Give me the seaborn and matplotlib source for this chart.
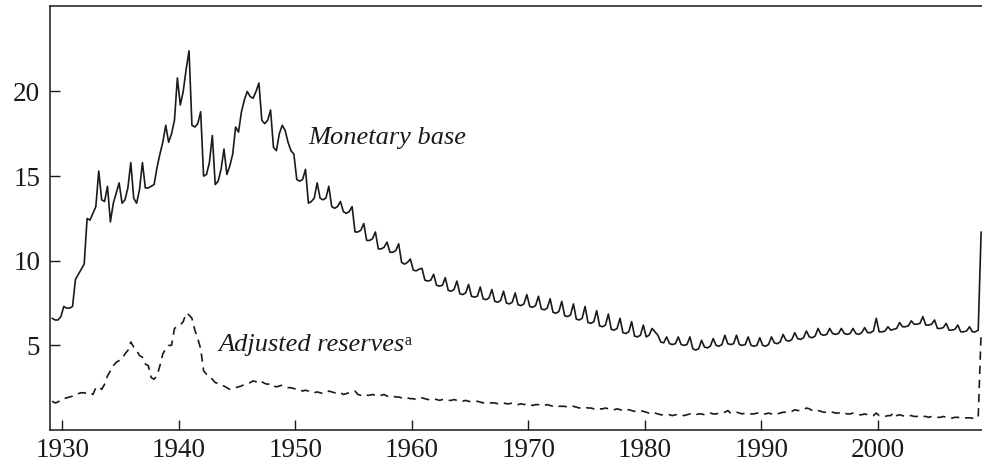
import numpy as np
import pandas as pd
import seaborn as sns
import matplotlib
matplotlib.use("Agg")
import matplotlib.pyplot as plt

# ---- data: quarterly ratios to GDP (percent), Q1..Q4 per year ----
years = list(range(1929, 2009))
quarter_offsets = [0.125, 0.375, 0.625, 0.875]

base_1929_1948 = [
    6.6, 6.5, 6.5, 6.7,   7.3, 7.2, 7.2, 7.3,   8.9, 9.2, 9.5, 9.8,
    12.5, 12.4, 12.8, 13.2,   15.3, 13.6, 13.5, 14.4,   12.3, 13.4, 14.0, 14.6,
    13.4, 13.6, 14.3, 15.8,   13.7, 13.4, 14.2, 15.8,   14.3, 14.3, 14.4, 14.5,
    15.5, 16.3, 17.0, 18.0,   17.0, 17.5, 18.3, 20.8,   19.2, 20.0, 21.3, 22.4,
    18.0, 17.9, 18.1, 18.8,   15.0, 15.1, 15.8, 17.4,   14.5, 14.7, 15.4, 16.6,
    15.1, 15.6, 16.3, 17.9,   17.6, 18.8, 19.5, 20.0,   19.7, 19.6, 20.0, 20.5,
    18.3, 18.1, 18.3, 18.9,   16.7, 16.5, 17.5, 18.0,
]
base_1949_1968 = [
    17.7, 17.0, 16.5, 16.3,   14.8, 14.7, 14.8, 15.4,   13.4, 13.5, 13.7, 14.6,
    13.7, 13.6, 13.7, 14.4,   13.2, 13.1, 13.2, 13.5,   12.9, 12.8, 12.9, 13.2,
    11.7, 11.7, 11.8, 12.2,   11.2, 11.2, 11.3, 11.7,   10.7, 10.7, 10.8, 11.1,
    10.5, 10.5, 10.6, 11.0,   9.9, 9.8, 9.9, 10.1,   9.45, 9.4, 9.5, 9.55,
    8.85, 8.8, 8.85, 9.2,   8.55, 8.5, 8.55, 9.0,   8.25, 8.2, 8.3, 8.8,
    8.05, 8.0, 8.1, 8.6,   7.9, 7.85, 7.9, 8.45,   7.75, 7.7, 7.8, 8.3,
    7.6, 7.55, 7.65, 8.2,   7.5, 7.45, 7.55, 8.1,
]
base_1969_1988 = [
    7.4, 7.35, 7.45, 8.0,   7.3, 7.25, 7.35, 7.9,   7.15, 7.1, 7.2, 7.75,
    6.95, 6.9, 7.0, 7.6,   6.75, 6.7, 6.8, 7.45,   6.55, 6.5, 6.6, 7.3,
    6.35, 6.3, 6.4, 7.05,   6.15, 6.1, 6.2, 6.85,   5.95, 5.9, 6.0, 6.6,
    5.75, 5.7, 5.8, 6.4,   5.55, 5.5, 5.6, 6.2,   5.5, 5.6, 6.0, 5.8,
    5.6, 5.2, 5.15, 5.5,   5.1, 5.05, 5.1, 5.5,   5.05, 5.0, 5.05, 5.5,
    4.8, 4.72, 4.8, 5.3,   4.9, 4.85, 4.95, 5.4,   5.0, 4.95, 5.05, 5.6,
    5.1, 5.05, 5.1, 5.6,   5.05, 5.0, 5.05, 5.5,
]
base_1989_2008 = [
    5.0, 4.95, 5.0, 5.45,   5.0, 4.95, 5.05, 5.5,   5.15, 5.1, 5.2, 5.65,
    5.3, 5.25, 5.35, 5.75,   5.4, 5.35, 5.45, 5.85,   5.5, 5.45, 5.55, 6.0,
    5.65, 5.6, 5.65, 6.0,   5.7, 5.65, 5.7, 6.0,   5.7, 5.65, 5.7, 6.0,
    5.7, 5.65, 5.75, 6.05,   5.75, 5.75, 5.85, 6.6,   5.8, 5.8, 5.85, 6.1,
    5.9, 5.95, 6.0, 6.35,   6.1, 6.1, 6.15, 6.45,   6.25, 6.25, 6.3, 6.7,
    6.2, 6.2, 6.25, 6.5,   6.0, 6.0, 6.05, 6.3,   5.9, 5.9, 5.95, 6.2,
    5.8, 5.8, 5.85, 6.1,   5.8, 5.8, 5.9, 11.7,
]

reserves_1929_1948 = [
    1.7, 1.6, 1.65, 1.8,   1.85, 1.9, 1.95, 2.0,   2.1, 2.15, 2.2, 2.2,
    2.15, 2.2, 2.1, 2.5,   2.55, 2.4, 2.7, 3.2,   3.5, 3.8, 4.0, 4.1,
    4.2, 4.5, 4.7, 5.2,   4.9, 4.7, 4.4, 4.3,   3.9, 3.8, 3.1, 3.0,
    3.2, 3.8, 4.5, 4.8,   5.0, 5.0, 6.0, 6.1,   6.2, 6.4, 6.9, 6.8,
    6.6, 5.9, 5.4, 4.8,   3.5, 3.3, 3.2, 3.0,   2.8, 2.75, 2.65, 2.6,
    2.5, 2.4, 2.45, 2.5,   2.55, 2.6, 2.7, 2.75,   2.8, 2.9, 2.85, 2.95,
    2.85, 2.75, 2.7, 2.75,   2.6, 2.55, 2.6, 2.65,
]
reserves_1949_1968 = [
    2.55, 2.5, 2.5, 2.45,   2.4, 2.4, 2.3, 2.35,   2.3, 2.2, 2.2, 2.25,
    2.2, 2.15, 2.2, 2.3,   2.25, 2.2, 2.15, 2.2,   2.1, 2.15, 2.2, 2.25,
    2.3, 2.1, 2.05, 2.1,   2.05, 2.05, 2.1, 2.05,   2.0, 2.05, 2.1, 2.0,
    1.95, 2.0, 1.95, 1.95,   1.9, 1.95, 1.9, 1.85,   1.85, 1.8, 1.85, 1.9,
    1.85, 1.8, 1.8, 1.85,   1.8, 1.75, 1.8, 1.8,   1.75, 1.75, 1.8, 1.75,
    1.7, 1.7, 1.75, 1.7,   1.65, 1.65, 1.7, 1.65,   1.6, 1.65, 1.6, 1.6,
    1.6, 1.55, 1.6, 1.6,   1.55, 1.55, 1.6, 1.55,
]
reserves_1969_1988 = [
    1.5, 1.55, 1.5, 1.55,   1.5, 1.45, 1.5, 1.5,   1.45, 1.45, 1.5, 1.45,
    1.4, 1.45, 1.4, 1.4,   1.4, 1.35, 1.4, 1.4,   1.35, 1.3, 1.35, 1.35,
    1.3, 1.3, 1.25, 1.3,   1.25, 1.25, 1.3, 1.25,   1.2, 1.2, 1.25, 1.2,
    1.15, 1.15, 1.2, 1.15,   1.1, 1.1, 1.15, 1.1,   1.05, 1.0, 1.05, 1.0,
    0.95, 0.9, 0.9, 0.9,   0.9, 0.85, 0.9, 0.9,   0.9, 0.85, 0.9, 0.95,
    0.9, 0.9, 0.95, 0.95,   0.9, 0.95, 1.0, 0.95,   0.95, 1.0, 1.0, 1.05,
    1.15, 1.0, 1.0, 1.05,   1.0, 0.95, 1.0, 1.0,
]
reserves_1989_2008 = [
    0.95, 0.95, 1.0, 1.0,   0.95, 0.95, 1.0, 0.95,   1.0, 0.95, 1.0, 1.05,
    1.05, 1.05, 1.1, 1.2,   1.15, 1.15, 1.2, 1.3,   1.25, 1.15, 1.1, 1.15,
    1.1, 1.05, 1.05, 1.1,   1.05, 1.0, 1.0, 1.05,   1.0, 0.95, 0.95, 1.0,
    0.95, 0.9, 0.9, 0.95,   0.9, 0.9, 0.85, 1.0,   0.85, 0.85, 0.8, 0.85,
    0.85, 1.05, 0.85, 0.9,   0.85, 0.8, 0.85, 0.85,   0.8, 0.8, 0.85, 0.8,
    0.8, 0.75, 0.8, 0.8,   0.75, 0.75, 0.8, 0.75,   0.75, 0.7, 0.75, 0.75,
    0.7, 0.7, 0.72, 0.72,   0.7, 0.72, 0.75, 5.8,
]

x_ticks = [1930, 1940, 1950, 1960, 1970, 1980, 1990, 2000]
y_ticks = [5, 10, 15, 20]
label_base = "Monetary base"
label_reserves = "Adjusted reserves"
label_note = "a"

# ---- assemble ----
t = [y + q for y in years for q in quarter_offsets]
base = base_1929_1948 + base_1949_1968 + base_1969_1988 + base_1989_2008
reserves = reserves_1929_1948 + reserves_1949_1968 + reserves_1969_1988 + reserves_1989_2008
df = pd.DataFrame({"t": t, "base": base, "reserves": reserves})

sns.set_theme(style="ticks")
plt.rcParams["font.family"] = ["Liberation Serif", "DejaVu Serif"]

fig = plt.figure(figsize=(9.82, 4.66), dpi=100)
ax = fig.add_axes([50 / 982, 36 / 466, 932 / 982, 424 / 466])

sns.lineplot(data=df, x="t", y="base", ax=ax, color="#1a1a1a", linewidth=1.2)
sns.lineplot(data=df, x="t", y="reserves", ax=ax, color="#1a1a1a", linewidth=1.2)
ax.lines[1].set_dashes((5, 3.5))

ax.set_xlim(1928.94, 2008.95)
ax.set_ylim(0, 25.05)
ax.set_xticks(x_ticks)
ax.set_yticks(y_ticks)
ax.set_xlabel("")
ax.set_ylabel("")
ax.tick_params(axis="both", direction="in", length=7, width=1, color="#1a1a1a",
               labelsize=19.5, labelcolor="#1a1a1a")
ax.tick_params(axis="y", pad=7)
ax.tick_params(axis="x", pad=6)
for s in ["left", "bottom", "top"]:
    ax.spines[s].set_color("#1a1a1a")
    ax.spines[s].set_linewidth(1.1)
ax.spines["right"].set_visible(False)

ax.text(1951.1, 17.25, label_base, style="italic", fontsize=19,
        ha="left", va="center", color="#1a1a1a")
txt = ax.text(1943.36, 5.0, label_reserves, style="italic", fontsize=19,
              ha="left", va="center", color="#1a1a1a")
fig.canvas.draw()
bb = txt.get_window_extent()
ax.annotate(label_note, xy=(bb.x1, bb.y1), xycoords="figure pixels",
            xytext=(0.3, -5), textcoords="offset points",
            fontsize=11.5, ha="left", va="center", color="#1a1a1a")

fig.savefig("out.png", dpi=100)
